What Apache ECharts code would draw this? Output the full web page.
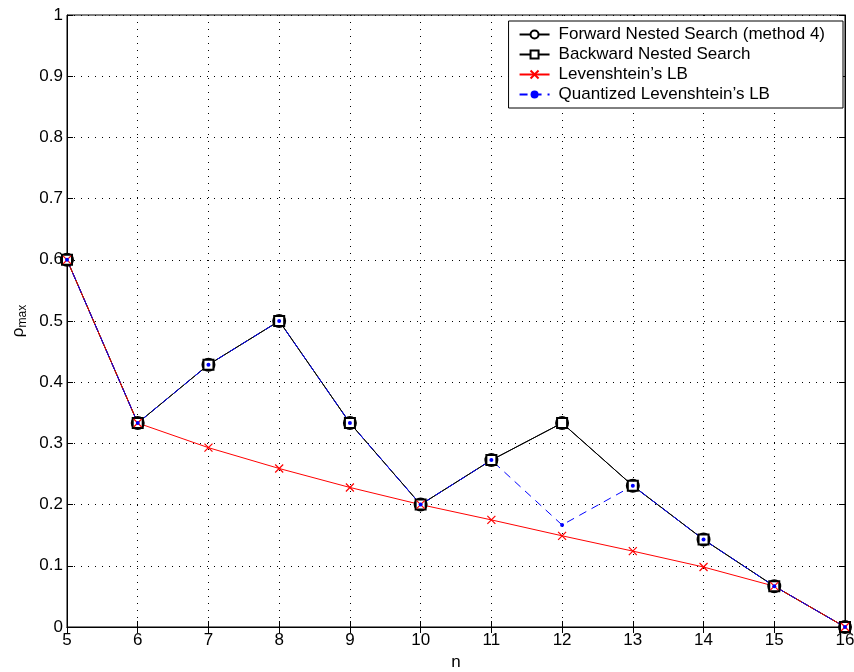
<!DOCTYPE html>
<html><head><meta charset="utf-8">
<script src="https://cdn.jsdelivr.net/npm/echarts@6/dist/echarts.min.js"></script>
<style>html,body{margin:0;padding:0;background:#fff}#c{width:854px;height:672px}</style>
</head><body><div id="c"></div>
<script>
const nValues = [5,6,7,8,9,10,11,12,13,14,15,16];
const forwardNested = [0.6,0.3333,0.4286,0.5,0.3333,0.2,0.2727,0.3333,0.2308,0.1429,0.0667,0];
const backwardNested = [0.6,0.3333,0.4286,0.5,0.3333,0.2,0.2727,0.3333,0.2308,0.1429,0.0667,0];
const levenshteinLB = [0.6,0.3333,0.293,0.259,0.228,0.2,0.175,0.149,0.124,0.098,0.0667,0];
const quantizedLB = [0.6,0.3333,0.4286,0.5,0.3333,0.2,0.2727,0.1667,0.2308,0.1429,0.0667,0];
const seriesNames = ['Forward Nested Search (method 4)','Backward Nested Search',"Levenshtein\u2019s LB","Quantized Levenshtein\u2019s LB"];

const pairs = a => nValues.map((n,i)=>[n,a[i]]);
const font = 'Liberation Sans, Arial, sans-serif';
const FS = 17;
const chart = echarts.init(document.getElementById('c'), null, {renderer:'canvas'});
const crossPath = 'path://M0,0L10,10M10,0L0,10';
chart.setOption({
  animation:false,
  backgroundColor:'#fff',
  grid:{left:67,right:9,top:15,bottom:45,show:true,borderColor:'#000',borderWidth:1,outerBoundsMode:'none',containLabel:false},
  legend:{
    right:11,top:21,orient:'vertical',
    backgroundColor:'#fff',borderColor:'#000',borderWidth:1,
    padding:[5,18,5,10],itemGap:3,itemWidth:30,itemHeight:10,
    textStyle:{fontFamily:font,fontSize:FS,color:'#000',padding:[0,0,0,4]},
    data:seriesNames
  },
  xAxis:[{
    type:'value',min:5,max:16,interval:1,
    name:'n',nameLocation:'middle',nameGap:25,
    nameTextStyle:{fontFamily:font,fontSize:FS,color:'#000'},
    axisLine:{lineStyle:{color:'#000'}},
    axisTick:{inside:true,length:6,lineStyle:{color:'#000'}},
    axisLabel:{fontFamily:font,fontSize:FS,color:'#000',margin:5},
    splitLine:{show:true,lineStyle:{color:'#000',type:[1,6],width:1}}
  },{
    type:'value',min:5,max:16,interval:1,position:'top',
    axisLine:{show:true,lineStyle:{color:'#000'}},
    axisTick:{show:true,inside:true,length:6,lineStyle:{color:'#000'}},
    axisLabel:{show:false},splitLine:{show:false}
  }],
  yAxis:[{
    type:'value',min:0,max:1,interval:0.1,
    name:'ρ{sub|max}',nameLocation:'middle',nameGap:36,nameRotate:90,
    nameTextStyle:{fontFamily:font,fontSize:FS,color:'#000',rich:{sub:{fontFamily:font,fontSize:12,color:'#000',verticalAlign:'bottom',padding:[8,0,0,0]}}},
    axisLine:{show:true,lineStyle:{color:'#000'}},
    axisTick:{show:true,inside:true,length:6,lineStyle:{color:'#000'}},
    axisLabel:{fontFamily:font,fontSize:FS,color:'#000',margin:4,formatter:v=>String(Math.round(v*10)/10)},
    splitLine:{show:true,lineStyle:{color:'#000',type:[1,6],width:1}}
  },{
    type:'value',min:0,max:1,interval:0.1,position:'right',
    axisLine:{show:true,lineStyle:{color:'#000'}},
    axisTick:{show:true,inside:true,length:6,lineStyle:{color:'#000'}},
    axisLabel:{show:false},splitLine:{show:false}
  }],
  series:[
    {name:seriesNames[0],type:'line',data:pairs(forwardNested),symbol:'emptyCircle',symbolSize:12,
     lineStyle:{color:'#000',width:1},itemStyle:{color:'#000',borderColor:'#000',borderWidth:0.7}},
    {name:seriesNames[1],type:'line',data:pairs(backwardNested),symbol:'emptyRect',symbolSize:10,
     lineStyle:{color:'#000',width:1},itemStyle:{color:'#000',borderColor:'#000',borderWidth:0.7}},
    {name:seriesNames[2],type:'line',data:pairs(levenshteinLB),symbol:crossPath,symbolSize:8,
     lineStyle:{color:'#ff0000',width:1},itemStyle:{color:'#ff0000',borderColor:'#ff0000',borderWidth:1.2}},
    {name:seriesNames[3],type:'line',data:pairs(quantizedLB),symbol:'circle',symbolSize:4,
     lineStyle:{color:'#0000ff',width:1,type:[8,6]},itemStyle:{color:'#0000ff'}}
  ]
});
</script></body></html>
